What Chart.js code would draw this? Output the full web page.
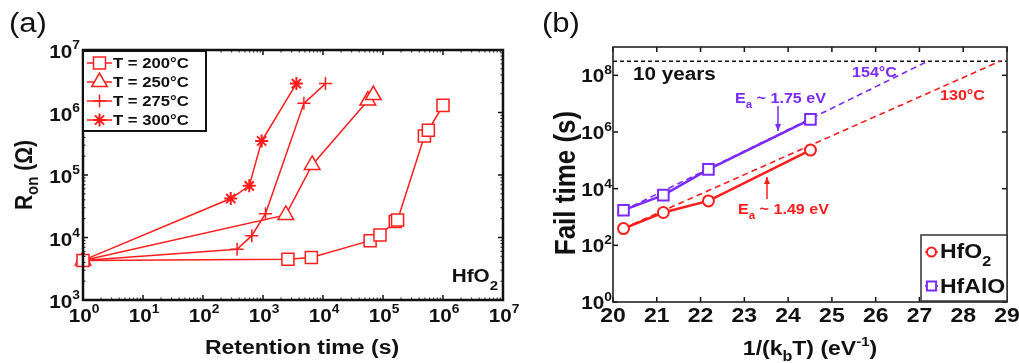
<!DOCTYPE html>
<html>
<head>
<meta charset="utf-8">
<script src="https://cdn.jsdelivr.net/npm/chart.js@4.4.0/dist/chart.umd.min.js"></script>
<style>
  html, body { margin: 0; padding: 0; background: #fff; }
  #wrap { position: relative; width: 1019px; height: 363px; }
  #chartA { position: absolute; left: 0; top: 0; }
  #chartB { position: absolute; left: 510px; top: 0; }
</style>
</head>
<body>
<div id="wrap">
  <canvas id="chartB" width="509" height="363"></canvas>
  <canvas id="chartA" width="540" height="363"></canvas>
</div>
<script>
'use strict';

// ---- panel (a): R_on vs retention time ----
var tempLabels = ['T = 200°C', 'T = 250°C', 'T = 275°C', 'T = 300°C'];
var time200 = [1, 2600, 6400, 61000, 89000, 160000, 175000, 490000, 570000, 1000000];
var ron200 = [4300, 4500, 4800, 8900, 11000, 18000, 19000, 420000, 520000, 1300000];
var time250 = [1, 2400, 6600, 56000, 69000];
var ron250 = [4300, 23000, 145000, 1550000, 1900000];
var time275 = [1, 370, 650, 1100, 4800, 11000];
var ron275 = [4300, 6500, 10700, 24000, 1400000, 2900000];
var time300 = [1, 290, 590, 950, 3600];
var ron300 = [4300, 42000, 67000, 350000, 2900000];
var retentionTicks = [1, 10, 100, 1e3, 1e4, 1e5, 1e6, 1e7];
var ronTicks = [1e3, 1e4, 1e5, 1e6, 1e7];

// ---- panel (b): fail time vs 1/(kT) ----
var materials = ['HfO', 'HfAlO'];
var invKT = [20.24, 21.15, 22.18, 24.51];
var failHfO2 = [390, 1440, 3700, 230000];
var failHfAlO = [1740, 5900, 48000, 2800000];
var fitHfO2X = [20.24, 28.84];
var fitHfO2Y = [400, 3.15e8];
var fitHfAlOX = [20.24, 27.19];
var fitHfAlOY = [1700, 3.15e8];
var tenYearsX = [20, 29];
var tenYearsY = [3.15e8, 3.15e8];
var kTTicks = [20, 21, 22, 23, 24, 25, 26, 27, 28, 29];
var failTicks = [1, 1e2, 1e4, 1e6, 1e8];

var RED = 'rgb(255,28,28)';
var PURPLE = 'rgb(122,42,255)';
var FONT = '"Liberation Sans", Arial, sans-serif';
var SX = 1.15; // the figure text is a bit wide

function pts(xs, ys) {
    return xs.map(function (x, i) { return { x: x, y: ys[i] }; });
}

function exp10(v) {
    return String(Math.round(Math.log10(v)));
}

// parts: [text, size, dy, weight]
function richText(ctx, parts, x, y, align, color, rot) {
    var w = 0;
    parts.forEach(function (p) {
        ctx.font = (p[3] || 'bold') + ' ' + p[1] + 'px ' + FONT;
        w += ctx.measureText(p[0]).width;
    });
    ctx.save();
    ctx.fillStyle = color || '#111';
    ctx.textAlign = 'left';
    ctx.textBaseline = 'alphabetic';
    var start;
    if (rot) {
        ctx.translate(x, y);
        ctx.rotate(-Math.PI / 2);
        ctx.scale(1, SX);
        start = -w / 2;
    } else {
        var sw = w * SX;
        var left = align === 'center' ? x - sw / 2 : (align === 'right' ? x - sw : x);
        ctx.translate(left, y);
        ctx.scale(SX, 1);
        start = 0;
    }
    var cx = start;
    parts.forEach(function (p) {
        ctx.font = (p[3] || 'bold') + ' ' + p[1] + 'px ' + FONT;
        ctx.fillText(p[0], cx, p[2] || 0);
        cx += ctx.measureText(p[0]).width;
    });
    ctx.restore();
}

function seg(ctx, x1, y1, x2, y2) {
    ctx.beginPath();
    ctx.moveTo(x1, y1);
    ctx.lineTo(x2, y2);
    ctx.stroke();
}

function arrow(ctx, x, y1, y2, color) {
    ctx.save();
    ctx.strokeStyle = color;
    ctx.fillStyle = color;
    ctx.lineWidth = 1.5;
    seg(ctx, x, y1, x, y2);
    var d = y2 > y1 ? 1 : -1;
    ctx.beginPath();
    ctx.moveTo(x, y2);
    ctx.lineTo(x - 3, y2 - d * 7);
    ctx.lineTo(x + 3, y2 - d * 7);
    ctx.closePath();
    ctx.fill();
    ctx.restore();
}

function marker(ctx, style, radius, bw, color, x, y) {
    ctx.save();
    ctx.strokeStyle = color;
    ctx.fillStyle = '#fff';
    ctx.lineWidth = bw;
    Chart.helpers.drawPoint(ctx, { pointStyle: style, radius: radius, borderWidth: bw, rotation: 0 }, x, y);
    ctx.restore();
}

function drawTicks(chart, xTicks, yTicks, len, width, minor) {
    var ctx = chart.ctx, a = chart.chartArea;
    var xs = chart.scales.x, ys = chart.scales.y;
    ctx.save();
    ctx.strokeStyle = '#111';
    ctx.lineWidth = width;
    xTicks.forEach(function (v) {
        var px = xs.getPixelForValue(v);
        seg(ctx, px, a.bottom, px, a.bottom - len);
        seg(ctx, px, a.top, px, a.top + len);
    });
    yTicks.forEach(function (v) {
        var py = ys.getPixelForValue(v);
        seg(ctx, a.left, py, a.left + len, py);
        seg(ctx, a.right, py, a.right - len, py);
    });
    if (minor) {
        ctx.lineWidth = 1;
        xTicks.slice(0, -1).forEach(function (v) {
            for (var m = 2; m < 10; m++) {
                var px = xs.getPixelForValue(v * m);
                seg(ctx, px, a.bottom, px, a.bottom - len / 2);
                seg(ctx, px, a.top, px, a.top + len / 2);
            }
        });
        yTicks.slice(0, -1).forEach(function (v) {
            for (var m = 2; m < 10; m++) {
                var py = ys.getPixelForValue(v * m);
                seg(ctx, a.left, py, a.left + len / 2, py);
                seg(ctx, a.right, py, a.right - len / 2, py);
            }
        });
    }
    ctx.restore();
}

var panelA = {
    id: 'panelA',
    afterDatasetsDraw: function (chart) {
        var ctx = chart.ctx, a = chart.chartArea;
        var xs = chart.scales.x, ys = chart.scales.y;
        drawTicks(chart, retentionTicks, ronTicks, 5, 1.5, true);
        ctx.save();
        ctx.lineWidth = 2.5;
        ctx.strokeStyle = '#111';
        ctx.strokeRect(a.left, a.top, a.right - a.left, a.bottom - a.top);
        ctx.restore();

        retentionTicks.forEach(function (v) {
            richText(ctx, [['10', 18], [exp10(v), 12, -9]], xs.getPixelForValue(v) + 1, a.bottom + 22, 'center');
        });
        ronTicks.forEach(function (v) {
            richText(ctx, [['10', 18], [exp10(v), 12, -9]], a.left - 3, ys.getPixelForValue(v) + 8, 'right');
        });
        richText(ctx, [['Retention time (s)', 20]], 302, 354, 'center');
        richText(ctx, [['R', 21], ['on', 15, 5], [' (Ω)', 21]], 32, 175, 'center', '#111', true);
        richText(ctx, [['HfO', 18], ['2', 13, 8]], 498, 282, 'right');
        richText(ctx, [['(a)', 27, 0, 'normal']], 9, 32, 'left');

        // legend
        ctx.save();
        ctx.fillStyle = '#fff';
        ctx.fillRect(a.left, a.top, 123, 80);
        ctx.lineWidth = 2;
        ctx.strokeStyle = '#111';
        ctx.strokeRect(a.left, a.top + 1, 123, 80);
        chart.data.datasets.forEach(function (ds, i) {
            var y = a.top + 13 + i * 19;
            ctx.strokeStyle = ds.borderColor;
            ctx.lineWidth = 1.5;
            seg(ctx, a.left + 4, y, a.left + 29, y);
            marker(ctx, ds.pointStyle, ds.pointRadius, ds.pointBorderWidth, ds.borderColor, a.left + 16.5, y);
            richText(ctx, [[ds.label, 14.5]], a.left + 30, y + 5, 'left');
        });
        ctx.restore();
    }
};

var panelB = {
    id: 'panelB',
    afterDatasetsDraw: function (chart) {
        var ctx = chart.ctx, a = chart.chartArea;
        var xs = chart.scales.x, ys = chart.scales.y;
        drawTicks(chart, kTTicks, failTicks, 5, 1.5, false);
        ctx.save();
        ctx.lineWidth = 1.6;
        ctx.strokeStyle = '#222';
        ctx.strokeRect(a.left, a.top, a.right - a.left, a.bottom - a.top);
        ctx.restore();

        kTTicks.forEach(function (v) {
            richText(ctx, [[String(v), 20]], xs.getPixelForValue(v), a.bottom + 20, 'center');
        });
        failTicks.forEach(function (v) {
            richText(ctx, [['10', 18], [exp10(v), 12, -8]], a.left - 1, ys.getPixelForValue(v) + 7, 'right');
        });
        richText(ctx, [['1/(k', 20], ['b', 14, 6], ['T) (eV', 20], ['-1', 13, -9], [')', 20]], 300, 355, 'center');
        richText(ctx, [['Fail time (s)', 26]], 65, 183, 'center', '#111', true);
        richText(ctx, [['(b)', 27, 0, 'normal']], 32, 32, 'left');

        // annotations
        richText(ctx, [['10 years', 18]], 123, 80, 'left');
        richText(ctx, [['154°C', 14]], 342, 77, 'left', PURPLE);
        richText(ctx, [['130°C', 14]], 430, 100, 'left', RED);
        richText(ctx, [['E', 14], ['a', 10, 5], [' ~ 1.75 eV', 14]], 225, 103, 'left', PURPLE);
        arrow(ctx, 268, 106, 131, PURPLE);
        richText(ctx, [['E', 14], ['a', 10, 5], [' ~ 1.49 eV', 14]], 228, 214, 'left', RED);
        arrow(ctx, 257, 199, 177, RED);

        // legend
        ctx.save();
        ctx.fillStyle = '#fff';
        ctx.fillRect(411, 235, 86, 66);
        ctx.lineWidth = 1.5;
        ctx.strokeStyle = '#333';
        ctx.strokeRect(411, 235, 86, 66);
        [0, 1].forEach(function (i) {
            var ds = chart.data.datasets[i];
            var y = 252 + i * 34;
            ctx.strokeStyle = ds.borderColor;
            ctx.lineWidth = 1.5;
            seg(ctx, 415, y, 428, y);
            marker(ctx, ds.pointStyle, ds.pointRadius - 1, ds.pointBorderWidth, ds.borderColor, 421.5, y);
        });
        richText(ctx, [[materials[0], 20], ['2', 14, 8]], 430, 258, 'left');
        richText(ctx, [[materials[1], 20]], 430, 293, 'left');
        ctx.restore();
    }
};

function seriesA(i, xs, ys, style, radius, bw) {
    return {
        label: tempLabels[i],
        data: pts(xs, ys),
        borderColor: RED,
        backgroundColor: '#fff',
        borderWidth: 1.5,
        pointStyle: style,
        pointRadius: radius,
        pointBorderWidth: bw,
        pointBorderColor: RED,
        pointBackgroundColor: '#fff',
        tension: 0,
        clip: false
    };
}

new Chart(document.getElementById('chartA'), {
    type: 'line',
    data: {
        datasets: [
            seriesA(0, time200, ron200, 'rect', 8.5, 1.5),
            seriesA(1, time250, ron250, 'triangle', 9, 1.5),
            seriesA(2, time275, ron275, 'cross', 6.5, 1.5),
            seriesA(3, time300, ron300, 'star', 6.5, 2)
        ]
    },
    options: {
        responsive: false,
        animation: false,
        events: [],
        layout: { padding: { left: 83, right: 37, top: 50, bottom: 63 } },
        scales: {
            x: { type: 'logarithmic', min: 1, max: 1e7, display: false },
            y: { type: 'logarithmic', min: 1e3, max: 1e7, display: false }
        },
        plugins: { legend: { display: false }, tooltip: { enabled: false } }
    },
    plugins: [panelA]
});

new Chart(document.getElementById('chartB'), {
    type: 'line',
    data: {
        datasets: [
            {
                label: 'HfO2',
                data: pts(invKT, failHfO2),
                borderColor: RED,
                borderWidth: 2.5,
                pointStyle: 'circle',
                pointRadius: 5.5,
                pointBorderWidth: 2,
                pointBorderColor: RED,
                pointBackgroundColor: '#fff',
                order: 1,
                clip: false
            },
            {
                label: 'HfAlO',
                data: pts(invKT, failHfAlO),
                borderColor: PURPLE,
                borderWidth: 2.5,
                pointStyle: 'rect',
                pointRadius: 7.5,
                pointBorderWidth: 2,
                pointBorderColor: PURPLE,
                pointBackgroundColor: '#fff',
                order: 1,
                clip: false
            },
            {
                label: 'HfO2 fit',
                data: pts(fitHfO2X, fitHfO2Y),
                borderColor: RED,
                borderWidth: 1.6,
                borderDash: [6, 4],
                pointRadius: 0,
                order: 2
            },
            {
                label: 'HfAlO fit',
                data: pts(fitHfAlOX, fitHfAlOY),
                borderColor: PURPLE,
                borderWidth: 1.6,
                borderDash: [6, 4],
                pointRadius: 0,
                order: 2
            },
            {
                label: '10 years',
                data: pts(tenYearsX, tenYearsY),
                borderColor: '#111',
                borderWidth: 1.4,
                borderDash: [4, 3],
                pointRadius: 0,
                order: 3
            }
        ]
    },
    options: {
        responsive: false,
        animation: false,
        events: [],
        layout: { padding: { left: 103, right: 12, top: 47, bottom: 61 } },
        scales: {
            x: { type: 'linear', min: 20, max: 29, display: false },
            y: { type: 'logarithmic', min: 1, max: 1e9, display: false }
        },
        plugins: { legend: { display: false }, tooltip: { enabled: false } }
    },
    plugins: [panelB]
});
</script>
</body>
</html>
